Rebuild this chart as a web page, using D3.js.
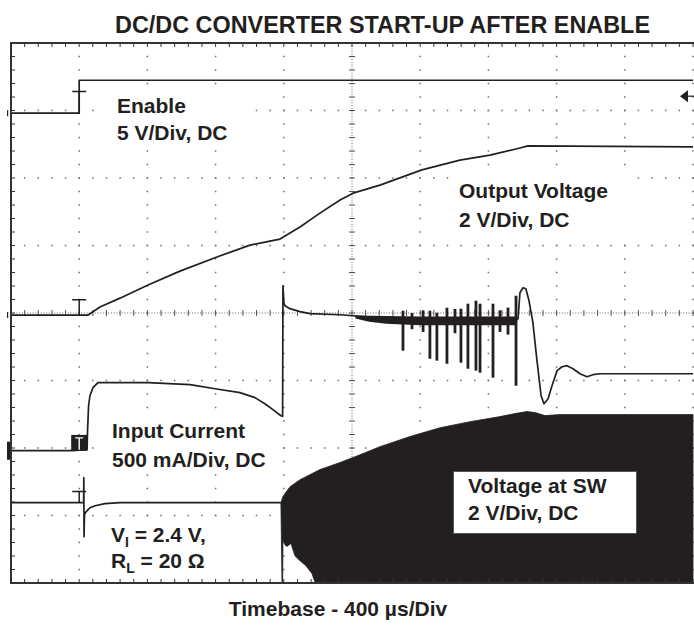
<!DOCTYPE html>
<html>
<head>
<meta charset="utf-8">
<script src="https://cdn.jsdelivr.net/npm/d3@7"></script>
<style>
body { margin: 0; background: #fff; }
text { font-family: "Liberation Sans", Arial, sans-serif; font-weight: bold; fill: #231f20; }
</style>
</head>
<body>
<svg width="694" height="630"></svg>
<script>
// time axis: microseconds, 400 us/div, trigger at 0
var tMin = -400, tMax = 3600;

// Enable (V)
var enableT = [-400, 0, 0, 3600];
var enableV = [0, 0, 2.44, 2.44];
var triggerLevel = 1.26;

// Output voltage (V)
var voutT = [-400, 52, 122, 239, 404, 591, 808, 1002, 1119, 1178, 1236, 1295, 1412, 1530, 1606, 1764, 2010, 2233, 2409, 2585, 2632, 3600];
var voutV = [0, 0, 0.24, 0.50, 0.89, 1.30, 1.72, 2.07, 2.19, 2.25, 2.43, 2.61, 3.02, 3.41, 3.61, 3.85, 4.30, 4.59, 4.74, 4.95, 5.01, 4.98];

// Input current (A)
var iinT = [-400, -42, 46, 49, 55, 63, 81, 110, 404, 650, 797, 943, 1031, 1089, 1136, 1183, 1193, 1195, 1201, 1207, 1236, 1295, 1354, 1530, 1677, 1800, 2562,
            2574, 2585, 2603, 2620, 2638, 2661, 2685, 2709, 2726, 2750, 2773, 2803, 2832, 2861, 2896, 2937, 2978, 3013, 3054, 3600];
var iinA = [0, 0, 0.007, 0.148, 0.333, 0.407, 0.467, 0.504, 0.504, 0.489, 0.459, 0.43, 0.393, 0.348, 0.304, 0.259, 0.255, 1.222, 1.09, 1.074, 1.052, 1.03, 1.015, 1.007, 0.993, 0.97, 0.965,
            0.978, 1.17, 1.207, 1.2, 1.111, 0.948, 0.667, 0.407, 0.348, 0.385, 0.481, 0.593, 0.622, 0.63, 0.607, 0.57, 0.548, 0.563, 0.57, 0.57];
// noisy band while switching in bursts
var bandT  = [1620, 1700, 1800, 2000, 2300, 2560];
var bandHi = [1.0, 1.0, 0.998, 0.995, 0.995, 0.995];
var bandLo = [0.98, 0.955, 0.94, 0.93, 0.93, 0.93];
// burst spikes
var spikeT  = [1899, 1952, 2017, 2057, 2098, 2157, 2204, 2239, 2280, 2327, 2351, 2427, 2468, 2515, 2562];
var spikeLo = [0.741, 0.90, 0.88, 0.681, 0.667, 0.644, 0.87, 0.652, 0.607, 0.593, 0.578, 0.541, 0.88, 0.86, 0.481];
var spikeHi = [1.037, 1.02, 1.04, 1.037, 1.022, 1.059, 1.05, 1.052, 1.089, 1.111, 1.089, 1.089, 1.04, 1.06, 1.148];

// Voltage at SW (V), before switching
var swT = [-400, 26, 27, 28.5, 31, 40, 63, 93, 151, 239, 1183];
var swV = [0, 0, 0.74, -1.01, -0.35, -0.27, -0.15, -0.09, -0.03, 0, 0];
// switching envelope
var swHiT = [1183, 1195, 1207, 1236, 1295, 1412, 1530, 1647, 1764, 1940, 2116, 2292, 2468, 2556, 2626, 2673, 2732, 2820, 3600];
var swHi  = [0, 0.18, 0.27, 0.47, 0.68, 0.98, 1.19, 1.42, 1.66, 1.96, 2.22, 2.40, 2.55, 2.64, 2.70, 2.67, 2.58, 2.61, 2.61];
var swLoT = [1183, 1190, 1193, 1195, 1207, 1218, 1242, 1265, 1295, 1330, 1365, 1400, 3600];
var swLo  = [0, -2.6, -2.6, -1.10, -1.25, -1.30, -1.21, -1.57, -1.72, -1.87, -2.10, -2.6, -2.6];

var ink = "#231f20";
var svg = d3.select("svg");
var x = d3.scaleLinear().domain([tMin, tMax]).range([11, 693]);
var y = d3.scaleLinear().domain([-4, 4]).range([583, 43]);   // screen divisions

var ch = {
  en:  {vdiv: 5,   pos: 2.96},
  out: {vdiv: 2,   pos: -0.03},
  iin: {vdiv: 0.5, pos: -2.04},
  sw:  {vdiv: 2,   pos: -2.81}
};
function py(c, v) { return y(v / c.vdiv + c.pos); }
function zip(a, b) { return a.map(function(d, i) { return [d, b[i]]; }); }
function line(c) {
  return d3.line().x(function(d) { return x(d[0]); }).y(function(d) { return py(c, d[1]); });
}

// ---- graticule
var grid = svg.append("g").attr("fill", "#6d6d6d");
var minorT = d3.range(0, 51).map(function(i) { return tMin + i * 80; });
var minorY = d3.range(0, 41).map(function(i) { return -4 + i * 0.2; });
var majT = [1, 2, 3, 4, 6, 7, 8, 9, 10].map(function(k) { return tMin + k * 400; });
var majY = [-3, -2, -1, 1, 2, 3];

majT.forEach(function(t) {
  grid.append("g").selectAll("rect").data(minorY).enter().append("rect")
    .attr("x", x(t) - 0.75).attr("y", function(d) { return y(d) - 0.75; })
    .attr("width", 1.5).attr("height", 1.5);
});
majY.forEach(function(v) {
  grid.append("g").selectAll("rect").data(minorT).enter().append("rect")
    .attr("x", function(d) { return x(d) - 0.75; }).attr("y", y(v) - 0.75)
    .attr("width", 1.5).attr("height", 1.5);
});
// centre lines
svg.append("line").attr("x1", x(1600)).attr("x2", x(1600)).attr("y1", y(4)).attr("y2", y(-4))
  .attr("stroke", "#666").attr("stroke-width", 1).attr("stroke-dasharray", "1,1.7");
svg.append("line").attr("x1", x(tMin)).attr("x2", x(tMax)).attr("y1", y(0)).attr("y2", y(0))
  .attr("stroke", "#666").attr("stroke-width", 1).attr("stroke-dasharray", "1,1.7");
svg.append("g").selectAll("line").data(minorY).enter().append("line")
  .attr("x1", x(1600) - 3).attr("x2", x(1600) + 3)
  .attr("y1", function(d) { return y(d); }).attr("y2", function(d) { return y(d); })
  .attr("stroke", "#555").attr("stroke-width", 1);
svg.append("g").selectAll("line").data(minorT).enter().append("line")
  .attr("y1", y(0) - 3).attr("y2", y(0) + 3)
  .attr("x1", function(d) { return x(d); }).attr("x2", function(d) { return x(d); })
  .attr("stroke", "#555").attr("stroke-width", 1);

// ---- traces
svg.append("clipPath").attr("id", "scr").append("rect")
  .attr("x", x(tMin)).attr("y", y(4)).attr("width", x(tMax) - x(tMin) + 2).attr("height", y(-4) - y(4));
var tr = svg.append("g").attr("clip-path", "url(#scr)")
  .attr("fill", "none").attr("stroke", ink).attr("stroke-width", 1.7).attr("stroke-linejoin", "round");

tr.append("path").attr("d", line(ch.en)(zip(enableT, enableV)));
tr.append("path").attr("d", line(ch.out)(zip(voutT, voutV)));
tr.append("path").attr("d", line(ch.iin)(zip(iinT, iinA)));

var band = d3.area().x(function(d) { return x(d[0]); })
  .y0(function(d) { return py(ch.iin, d[1]); }).y1(function(d) { return py(ch.iin, d[2]); });
tr.append("path").attr("fill", ink).attr("stroke", "none")
  .attr("d", band(bandT.map(function(t, i) { return [t, bandLo[i], bandHi[i]]; })));
tr.append("g").selectAll("line").data(spikeT).enter().append("line")
  .attr("x1", function(d) { return x(d); }).attr("x2", function(d) { return x(d); })
  .attr("y1", function(d, i) { return py(ch.iin, spikeLo[i]); })
  .attr("y2", function(d, i) { return py(ch.iin, spikeHi[i]); })
  .attr("stroke-width", 2.8);

tr.append("path").attr("d", line(ch.sw)(zip(swT, swV)));
var env = zip(swHiT, swHi).concat(zip(swLoT, swLo).reverse());
tr.append("path").attr("fill", ink).attr("stroke", ink).attr("stroke-width", 0.8)
  .attr("d", line(ch.sw)(env) + "Z");

// ---- trigger markers
function tee(c, v0, v1) {
  var xa = x(0), ya = py(c, v0), yb = py(c, v1);
  svg.append("path").attr("fill", "none").attr("stroke", ink).attr("stroke-width", 1.5)
    .attr("d", "M" + (xa - 7) + "," + yb + "H" + (xa + 7) + "M" + xa + "," + yb + "V" + ya);
}
tee(ch.en, 0, 1.6);
tee(ch.out, 0, 0.45);
tee(ch.sw, 0, 0.33);
var ib = svg.append("g");
ib.append("rect").attr("x", x(0) - 8).attr("y", py(ch.iin, 0.117)).attr("width", 16)
  .attr("height", py(ch.iin, 0) - py(ch.iin, 0.117)).attr("fill", ink);
ib.append("path").attr("fill", "none").attr("stroke", "#fff").attr("stroke-width", 1.4)
  .attr("d", "M" + (x(0) - 4) + "," + (py(ch.iin, 0.117) + 3) + "H" + (x(0) + 4) +
    "M" + x(0) + "," + (py(ch.iin, 0.117) + 3) + "V" + (py(ch.iin, 0) - 1));

// trigger level arrow
var ty = py(ch.en, triggerLevel);
svg.append("path").attr("fill", ink)
  .attr("d", "M680," + ty + "L688," + (ty - 6) + "L688," + (ty + 6) + "Z");
svg.append("line").attr("x1", 688).attr("x2", 694).attr("y1", ty).attr("y2", ty)
  .attr("stroke", ink).attr("stroke-width", 1.2);

// ground markers at the left
[ch.en, ch.out].forEach(function(c) {
  svg.append("rect").attr("x", 7).attr("y", py(c, 0) - 3).attr("width", 1.2).attr("height", 6).attr("fill", ink);
});
svg.append("rect").attr("x", 7).attr("y", py(ch.iin, 0) - 9).attr("width", 4).attr("height", 18).attr("fill", ink);

// ---- frame
var fr = svg.append("g").attr("stroke", "#333");
fr.append("path").attr("fill", "none").attr("stroke-width", 2)
  .attr("d", "M694," + y(4) + "H" + x(tMin) + "V" + y(-4) + "H694");
fr.append("g").selectAll("line").data(minorT).enter().append("line")
  .attr("x1", function(d) { return x(d); }).attr("x2", function(d) { return x(d); })
  .attr("y1", y(4)).attr("y2", y(4) + 4).attr("stroke-width", 1);
fr.append("g").selectAll("line").data(minorT).enter().append("line")
  .attr("x1", function(d) { return x(d); }).attr("x2", function(d) { return x(d); })
  .attr("y1", y(-4)).attr("y2", y(-4) - 4).attr("stroke-width", 1);
fr.append("g").selectAll("line").data(minorY).enter().append("line")
  .attr("x1", x(tMin)).attr("x2", x(tMin) + 4)
  .attr("y1", function(d) { return y(d); }).attr("y2", function(d) { return y(d); }).attr("stroke-width", 1);

// ---- labels
function label(bx, lines, box) {
  if (box) {
    svg.append("rect").attr("x", box[0]).attr("y", box[1]).attr("width", box[2]).attr("height", box[3])
      .attr("fill", "#fff").attr("stroke", box[4] || "none").attr("stroke-width", 1);
  }
  lines.forEach(function(l) {
    svg.append("text").attr("x", bx).attr("y", l[1]).attr("font-size", 21).text(l[0]);
  });
}
label(117, [["Enable", 113], ["5 V/Div, DC", 140]], [100, 92, 150, 56]);
label(459, [["Output Voltage", 198], ["2 V/Div, DC", 227]], [452, 177, 175, 56]);
label(112, [["Input Current", 438], ["500 mA/Div, DC", 467]], [100, 420, 180, 54]);
label(468, [["Voltage at SW", 493], ["2 V/Div, DC", 520]], [453.5, 471.5, 183, 62, "#555"]);

svg.append("rect").attr("x", 104).attr("y", 524).attr("width", 116).attr("height", 54).attr("fill", "#fff");
var t1 = svg.append("text").attr("x", 111).attr("y", 542).attr("font-size", 21);
t1.append("tspan").text("V");
t1.append("tspan").attr("font-size", 14).attr("dy", 5).text("I");
t1.append("tspan").attr("dy", -5).text(" = 2.4 V,");
var t2 = svg.append("text").attr("x", 111).attr("y", 568).attr("font-size", 21);
t2.append("tspan").text("R");
t2.append("tspan").attr("font-size", 14).attr("dy", 5).text("L");
t2.append("tspan").attr("dy", -5).text(" = 20 \u03A9");

svg.append("text").attr("x", 115).attr("y", 33).attr("font-size", 23)
  .attr("textLength", 535).attr("lengthAdjust", "spacingAndGlyphs")
  .text("DC/DC CONVERTER START-UP AFTER ENABLE");
svg.append("text").attr("x", 338).attr("y", 616).attr("font-size", 21).attr("text-anchor", "middle")
  .text("Timebase - 400 \u00B5s/Div");
</script>
</body>
</html>
